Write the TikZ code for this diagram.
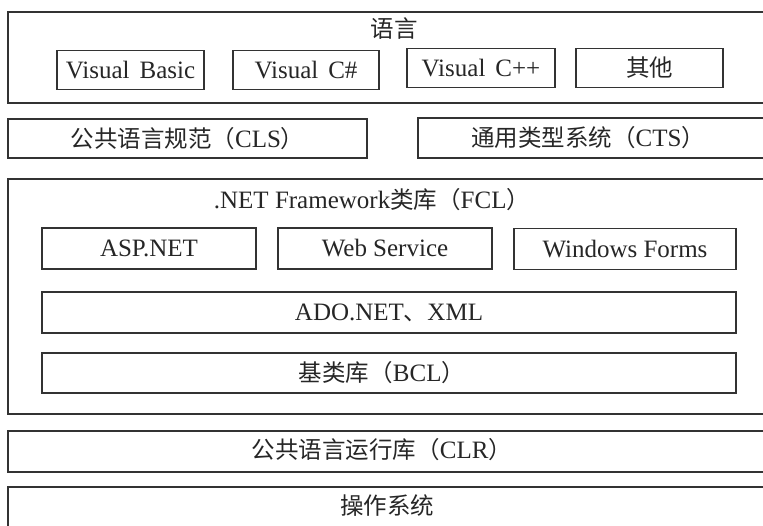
\documentclass[tikz,border=0pt]{standalone}
\usepackage{fontspec}
\setmainfont{Liberation Serif}
\newfontfamily\cjk{Noto Sans CJK SC}
\newcommand\zh[1]{{\cjk\fontsize{23.5}{28}\selectfont #1}}

\begin{document}
\begin{tikzpicture}[x=1pt,y=-1pt,line width=1.4pt,
  box/.style={draw=black!80,inner sep=0pt,minimum height=39pt,text=black!85,
    font=\fontsize{25}{28}\selectfont},
  layer/.style={box,minimum width=772pt},
  caption/.style={inner sep=0pt,text=black!85,font=\fontsize{25}{28}\selectfont}]
% page of 763 x 526, y runs downwards
\useasboundingbox (0,0) rectangle (763,526);
\clip (0,0) rectangle (763,526);
% languages
\node[layer,minimum height=91pt] (lang) at (394,57.5) {};
\node[caption] (langname) at (394,29) {\zh{语言}};
\node[box,minimum width=147pt] (vb) at (130.5,70) {Visual\hspace{0.4em}Basic};
\node[box,minimum width=146pt] (vcs) at (306,70) {Visual\hspace{0.4em}C\#};
\node[box,minimum width=148pt] (vcpp) at (481,68) {Visual\hspace{0.4em}C++};
\node[box,minimum width=147pt] (other) at (649.5,68) {\zh{其他}};
% CLS and CTS
\node[box,minimum width=359pt] (cls) at (187.5,138.5) {\zh{公共语言规范（}CLS\zh{）}};
\node[box,minimum width=362pt,minimum height=40pt] (cts) at (599,138) {};
\node[caption] (ctsname) at (588,138) {\zh{通用类型系统（}CTS\zh{）}};
% class library
\node[layer,minimum height=235pt] (fcl) at (394,296.5) {};
\node[caption] (fclname) at (372,200) {.NET Framework\zh{类库（}FCL\zh{）}};
\node[box,minimum width=214pt,minimum height=41pt] (asp) at (149,248.5) {ASP.NET};
\node[box,minimum width=214pt,minimum height=41pt] (web) at (385,248.5) {Web Service};
\node[box,minimum width=222pt,minimum height=41pt] (win) at (625,249) {Windows Forms};
\node[box,minimum width=694pt,minimum height=41pt] (ado) at (389,312.5) {ADO.NET\zh{、}XML};
\node[box,minimum width=694pt,minimum height=40pt] (bcl) at (389,373) {};
\node[caption] (bclname) at (382,373) {\zh{基类库（}BCL\zh{）}};
% runtime and system
\node[layer,minimum height=41pt] (clr) at (394,451.5) {};
\node[caption] (clrname) at (382,450) {\zh{公共语言运行库（}CLR\zh{）}};
\node[layer,minimum height=83pt] (os) at (394,528.5) {};
\node[caption] (osname) at (387,506) {\zh{操作系统}};
\end{tikzpicture}
\end{document}
